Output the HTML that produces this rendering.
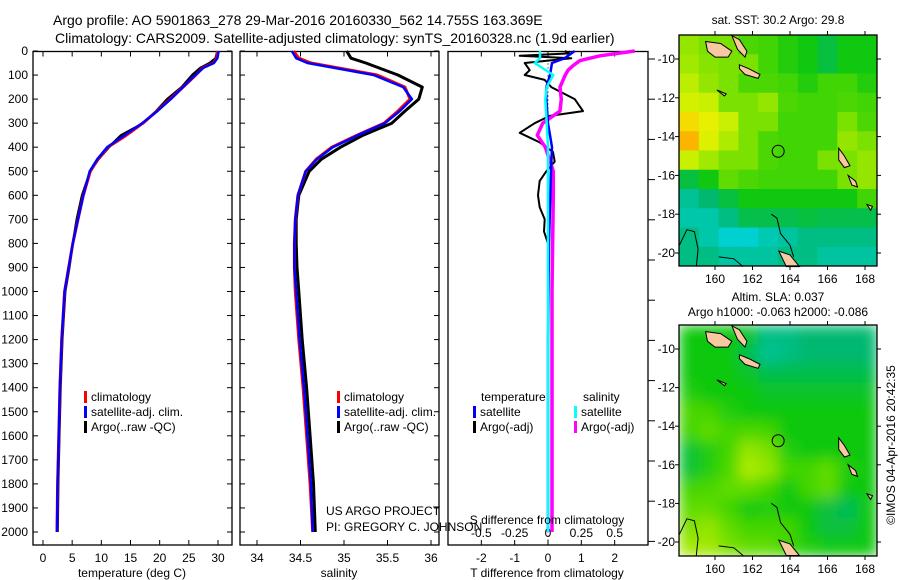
<!DOCTYPE html>
<html><head><meta charset="utf-8">
<style>
html,body{margin:0;padding:0;background:#fff;}
svg{display:block;font-family:"Liberation Sans",sans-serif;}
text{font-size:12px;fill:#000;}
</style></head>
<body>
<svg id="chart" width="900" height="580" viewBox="0 0 900 580" xmlns="http://www.w3.org/2000/svg">
<defs>
<filter id="blur" x="-5%" y="-5%" width="110%" height="110%"><feGaussianBlur stdDeviation="7" edgeMode="duplicate"/></filter>
<clipPath id="clipSla"><rect x="679" y="325" width="198" height="231"/></clipPath>
</defs>
<text x="53" y="25" style="font-size:14px">Argo profile: AO 5901863_278 29-Mar-2016 20160330_562 14.755S 163.369E</text>
<text x="55" y="43" style="font-size:14px">Climatology: CARS2009. Satellite-adjusted climatology: synTS_20160328.nc (1.9d earlier)</text>
<g id="g1"></g>
<g id="g2"></g>
<g id="g3"></g>
<g id="gp"></g>
<g id="m1"></g>
<g id="m2"></g>
<text transform="translate(895,445) rotate(-90)" text-anchor="middle">©IMOS 04-Apr-2016 20:42:35</text>
</svg>
<script>
// ---------- data ----------
const depthTicks = [0,100,200,300,400,500,600,700,800,900,1000,1100,1200,1300,1400,1500,1600,1700,1800,1900,2000];
const tempTicks = [0,5,10,15,20,25,30];
const salTicks = [34,34.5,35,35.5,36];
const salTickLabels = ["34","34.5","35","35.5","36"];
const tdiffTicks = [-2,-1,0,1,2];
const sdiffTicks = [-0.5,-0.25,0,0.25,0.5];
const sdiffTickLabels = ["-0.5","-0.25","0","0.25","0.5"];

const tempDepth = [0,30,50,70,100,150,200,250,300,350,400,450,500,600,700,800,900,1000,1200,1400,1600,1800,2000];
const tempClim  = [29.9,29.8,29.2,27.4,26.2,24.0,21.8,19.5,17.1,14.3,11.1,9.4,8.1,6.9,6.0,5.1,4.4,3.7,3.2,2.9,2.7,2.5,2.4];
const tempSat   = [30.1,29.9,29.3,27.5,26.1,24.0,21.9,19.6,17.0,14.0,11.0,9.3,8.0,6.9,6.0,5.1,4.4,3.7,3.2,2.9,2.7,2.5,2.4];
const tempArgo  = [29.9,29.6,28.6,27.0,25.6,23.8,21.3,19.4,17.2,13.4,11.3,9.5,8.1,6.7,5.8,5.1,4.5,3.8,3.3,3.0,2.8,2.6,2.5];

const profDepth = [0,30,50,100,150,200,250,300,350,400,450,500,600,700,800,900,1000,1200,1400,1600,1800,2000];
const salClim   = [34.42,34.48,34.62,35.38,35.70,35.76,35.62,35.46,35.15,34.86,34.68,34.56,34.47,34.44,34.43,34.43,34.44,34.48,34.53,34.57,34.61,34.64];
const salSat    = [34.40,34.45,34.58,35.34,35.68,35.78,35.64,35.47,35.16,34.87,34.69,34.56,34.47,34.44,34.43,34.43,34.45,34.49,34.54,34.58,34.62,34.64];
const salArgo   = [35.03,35.08,35.25,35.62,35.90,35.86,35.70,35.55,35.22,34.96,34.74,34.60,34.48,34.45,34.45,34.46,34.48,34.52,34.57,34.61,34.65,34.67];

const diffDepth = [0,10,20,30,50,80,100,120,150,200,250,270,300,340,380,420,460,500,540,600,650,700,750,800];
const tdiffArgo = [0.5,0.65,-0.85,0.7,-0.7,-0.55,-0.7,-0.1,0.1,0.8,1.05,0.05,-0.4,-0.85,-0.25,0.15,0.2,-0.05,-0.25,-0.3,-0.25,-0.1,-0.12,0.0];
const fullDepth = [0,30,50,100,150,200,300,400,500,800,1200,1600,2000];
const tdiffSat  = [0.8,0.5,0.12,0.06,-0.05,-0.05,0.0,0.12,0.09,0.03,0.0,0.0,0.0];
const sdiffSat  = [-0.06,-0.06,-0.1,0.04,-0.01,-0.02,-0.01,0.0,0.0,0.0,0.0,0.0,0.0];
const sdiffArgoDepth = [0,20,40,60,80,100,150,200,250,300,350,400,450,500,600,1000,1500,2000];
const sdiffArgo = [0.65,0.39,0.24,0.19,0.15,0.13,0.09,0.10,0.09,-0.04,-0.08,-0.02,0.01,0.04,0.04,0.03,0.03,0.03];

const latTicks = [-10,-12,-14,-16,-18,-20];
const lonTicks = [160,162,164,166,168];
const sstGrid = [
[.62,.60,.60,.56,.55,.52,.50,.46,.50,.50],
[.63,.61,.60,.60,.55,.52,.50,.46,.50,.50],
[.65,.62,.60,.56,.56,.55,.52,.55,.55,.52],
[.68,.66,.60,.60,.62,.56,.55,.55,.56,.55],
[.76,.72,.66,.60,.60,.55,.55,.55,.60,.56],
[.80,.70,.64,.60,.56,.55,.55,.55,.62,.60],
[.66,.63,.60,.60,.56,.55,.55,.60,.60,.62],
[.46,.50,.58,.56,.55,.55,.55,.55,.60,.62],
[.38,.42,.46,.50,.50,.50,.50,.50,.50,.55],
[.36,.36,.40,.45,.45,.45,.46,.45,.45,.45],
[.40,.36,.32,.32,.35,.37,.40,.40,.40,.40],
[.40,.40,.37,.37,.37,.40,.40,.37,.37,.37]];
const slaGrid = [
[.50,.50,.50,.48,.40,.40,.42,.42,.42,.42],
[.50,.50,.50,.45,.38,.40,.42,.42,.42,.42],
[.50,.50,.50,.48,.45,.45,.45,.45,.45,.45],
[.52,.50,.50,.50,.48,.48,.48,.48,.48,.48],
[.56,.55,.52,.50,.50,.50,.50,.50,.50,.50],
[.55,.58,.55,.56,.55,.50,.50,.50,.50,.50],
[.47,.52,.55,.62,.60,.52,.50,.50,.50,.50],
[.47,.52,.56,.64,.62,.55,.55,.58,.52,.50],
[.55,.56,.58,.58,.55,.50,.55,.58,.50,.50],
[.58,.58,.55,.50,.52,.50,.50,.46,.44,.50],
[.60,.62,.58,.55,.55,.55,.50,.46,.46,.50],
[.63,.63,.60,.58,.58,.55,.52,.50,.50,.50]];
const floatLon = 163.369, floatLat = -14.755;

// ---------- helpers ----------
const NS="http://www.w3.org/2000/svg";
function mk(tag, attrs, parent){const e=document.createElementNS(NS,tag);for(const k in attrs)e.setAttribute(k,attrs[k]);parent.appendChild(e);return e;}
const PT=51.5, PB=545;
const yD = d => 51 + d*(532-51)/2000;
function panelFrame(g,x0,x1,name){
  const r=mk('rect',{x:x0,y:PT,width:x1-x0,height:PB-PT,fill:'#fff',stroke:'#000','stroke-width':1.3},g);
  
  
}
function line(g,xs,ys,color,w,name){
  const p=mk('polyline',{points:xs.map((x,i)=>x.toFixed(1)+','+ys[i].toFixed(1)).join(' '),fill:'none',stroke:color,'stroke-width':w,'stroke-linejoin':'round'},g);
  
  
}
function txt(g,x,y,s,anchor,name,size){
  const t=mk('text',{x:x,y:y,'text-anchor':anchor||'start'},g);
  if(size)t.style.fontSize=size+'px';
  t.textContent=s;
  
  
  return t;
}
function depthAxis(g,x0,x1,labels){
  depthTicks.forEach(d=>{
    const y=yD(d);
    mk('line',{x1:x0,y1:y,x2:x0+5,y2:y,stroke:'#000'},g);
    mk('line',{x1:x1,y1:y,x2:x1-5,y2:y,stroke:'#000'},g);
    if(labels) txt(g,28,y+4,String(d),'end','depth-tick-label');
  });
}
function legend(g,x,y,items){
  items.forEach((it,i)=>{
    const r=mk('rect',{x:x,y:y+i*15-10,width:3,height:12,fill:it[1]},g);
    
    
    txt(g,x+7,y+i*15,it[0],'start','legend-entry');
  });
}

// ---------- panel 1: temperature ----------
{
const g=document.getElementById('g1'), x0=33, x1=232;
const xT = t => 43 + t*(218-43)/30;
panelFrame(g,x0,x1,'temperature-panel');
depthAxis(g,x0,x1,true);
tempTicks.forEach(t=>{const x=xT(t);
  mk('line',{x1:x,y1:PB,x2:x,y2:PB-5,stroke:'#000'},g);
  mk('line',{x1:x,y1:PT,x2:x,y2:PT+5,stroke:'#000'},g);
  txt(g,x,562,String(t),'middle','temperature-tick-label');});
txt(g,132,577,'temperature (deg C)','middle','x-axis-title-temperature');
line(g,tempArgo.map(xT),tempDepth.map(yD),'#000',2.5,'argo-temperature-line');
line(g,tempClim.map(xT),tempDepth.map(yD),'#f00',3,'climatology-temperature-line');
line(g,tempSat.map(xT),tempDepth.map(yD),'#00f',2.5,'satellite-temperature-line');
legend(g,84,401,[['climatology','#f00'],['satellite-adj. clim.','#00f'],['Argo(..raw -QC)','#000']]);
}
// ---------- panel 2: salinity ----------
{
const g=document.getElementById('g2'), x0=240, x1=439;
const xS = s => 257 + (s-34)*(431-257)/2;
panelFrame(g,x0,x1,'salinity-panel');
depthAxis(g,x0,x1,false);
salTicks.forEach((s,i)=>{const x=xS(s);
  mk('line',{x1:x,y1:PB,x2:x,y2:PB-5,stroke:'#000'},g);
  mk('line',{x1:x,y1:PT,x2:x,y2:PT+5,stroke:'#000'},g);
  txt(g,x,562,salTickLabels[i],'middle','salinity-tick-label');});
txt(g,339,577,'salinity','middle','x-axis-title-salinity');
line(g,salArgo.map(xS),profDepth.map(yD),'#000',3,'argo-salinity-line');
line(g,salClim.map(xS),profDepth.map(yD),'#f00',3,'climatology-salinity-line');
line(g,salSat.map(xS),profDepth.map(yD),'#00f',2.5,'satellite-salinity-line');
legend(g,337,401,[['climatology','#f00'],['satellite-adj. clim.','#00f'],['Argo(..raw -QC)','#000']]);
}
// ---------- panel 3: differences ----------
{
const g=document.getElementById('g3'), x0=448, x1=648;
const xTd = t => 548 + t*(200/6);
const xSd = s => 548 + s*(200/1.5);
panelFrame(g,x0,x1,'difference-panel');
tdiffTicks.forEach(t=>{const x=xTd(t);
  mk('line',{x1:x,y1:PB,x2:x,y2:PB-5,stroke:'#000'},g);
  mk('line',{x1:x,y1:PT,x2:x,y2:PT+5,stroke:'#000'},g);
  txt(g,x,562,String(t),'middle','tdiff-tick-label');});
sdiffTicks.forEach((s,i)=>txt(g,xSd(s),537,sdiffTickLabels[i],'middle','sdiff-tick-label'));
for(let k=0;k<13;k++){const y=59+k*40.2; mk('line',{x1:x1,y1:y,x2:x1+7,y2:y,stroke:'#000'},g);}
mk('line',{x1:548,y1:PT,x2:548,y2:PB,stroke:'#000','stroke-dasharray':'1,3'},g);
line(g,tdiffArgo.map(xTd),diffDepth.map(yD),'#000',2,'argo-tdiff-line');
line(g,sdiffArgo.map(xSd),sdiffArgoDepth.map(yD),'#f0f',3.5,'argo-sdiff-line');
line(g,tdiffSat.map(xTd),fullDepth.map(yD),'#00f',2.5,'satellite-tdiff-line');
line(g,sdiffSat.map(xSd),fullDepth.map(yD),'#0ff',2.5,'satellite-sdiff-line');
txt(g,481,401,'temperature','start','legend-title-temperature');
txt(g,583,401,'salinity','start','legend-title-salinity');
legend(g,473,416,[['satellite','#00f'],['Argo(-adj)','#000']]);
legend(g,574,416,[['satellite','#0ff'],['Argo(-adj)','#f0f']]);
txt(g,547,524,'S difference from climatology','middle','sdiff-axis-title');
txt(g,547,577,'T difference from climatology','middle','tdiff-axis-title');
}
// project text
{const g=document.getElementById('gp');
txt(g,326,515,'US ARGO PROJECT','start','project-label');
txt(g,326,531,'PI: GREGORY C. JOHNSON','start','pi-label');}

// ---------- maps ----------
const stops=[[0,[0,16,208]],[.2,[0,144,255]],[.32,[0,208,208]],[.42,[0,184,112]],[.5,[16,200,16]],[.58,[96,220,0]],[.66,[200,240,0]],[.74,[240,240,0]],[.82,[255,160,0]],[.9,[224,64,0]],[1,[176,0,0]]];
function cmap(v){for(let i=1;i<stops.length;i++){if(v<=stops[i][0]){const a=stops[i-1],b=stops[i],f=(v-a[0])/(b[0]-a[0]);return 'rgb('+a[1].map((c,j)=>Math.round(c+(b[1][j]-c)*f)).join(',')+')';}}return 'rgb(176,0,0)';}
const islands=[
 [[159.5,-9.1],[160.3,-9.2],[160.9,-9.6],[160.7,-9.9],[160.0,-9.9],[159.6,-9.6]],
 [[160.9,-8.8],[161.3,-9.0],[161.7,-9.6],[161.6,-9.9],[161.2,-9.5]],
 [[161.3,-10.3],[161.8,-10.5],[162.4,-10.8],[162.3,-11.0],[161.6,-10.8],[161.3,-10.5]],
 [[160.1,-11.6],[160.6,-11.8],[160.5,-11.9]],
 [[166.6,-14.6],[166.9,-15.0],[167.2,-15.5],[166.9,-15.6],[166.6,-15.2]],
 [[167.1,-16.0],[167.5,-16.3],[167.6,-16.6],[167.3,-16.5]],
 [[168.1,-17.5],[168.4,-17.6],[168.3,-17.8]],
 [[163.4,-19.9],[164.0,-20.1],[164.5,-20.7],[163.8,-20.7]]];
const coastLines=[
 [[163.0,-18.0],[163.3,-18.2],[163.5,-19.0],[164.0,-19.6],[164.2,-20.2]],
 [[158.1,-19.6],[158.5,-18.8],[158.9,-18.9],[159.1,-19.8],[159.0,-20.7]],
 [[160.2,-20.2],[161.0,-20.3],[161.5,-20.7]]];
function drawMap(gid,grid,top,bottom,lat10y,lat20y,name,smooth){
  const g=document.getElementById(gid), L=679, R=877;
  const xL = lon => 715 + (lon-160)*18.75;
  const yL = lat => lat10y + (-10-lat)*(lat20y-lat10y)/10;
  const rows=grid.length, cols=grid[0].length, cw=(R-L)/cols, ch=(bottom-top)/rows;
  let cg=g;
  if(smooth){const outer=mk('g',{'clip-path':'url(#clipSla)'},g); cg=mk('g',{filter:'url(#blur)'},outer);}
  grid.forEach((row,i)=>row.forEach((v,j)=>{
    const c=mk('rect',{x:(L+j*cw).toFixed(2),y:(top+i*ch).toFixed(2),width:(cw+0.5).toFixed(2),height:(ch+0.5).toFixed(2),fill:cmap(v)},cg);
    
    
  }));
  islands.forEach(isl=>{const p=mk('polygon',{points:isl.map(q=>xL(q[0]).toFixed(1)+','+yL(q[1]).toFixed(1)).join(' '),fill:'#f8c8a0',stroke:'#000','stroke-width':1},g);
    
    });
  coastLines.forEach(cl=>{const p=mk('polyline',{points:cl.map(q=>xL(q[0]).toFixed(1)+','+yL(q[1]).toFixed(1)).join(' '),fill:'none',stroke:'#000','stroke-width':1},g);
    
    });
  const fc=mk('circle',{cx:xL(floatLon),cy:yL(floatLat),r:6,fill:'none',stroke:'#000','stroke-width':1},g);
  
  
  const fr=mk('rect',{x:L,y:top,width:R-L,height:bottom-top,fill:'none',stroke:'#000','stroke-width':1.3},g);
  
  
  latTicks.forEach(lat=>{const y=yL(lat);
    mk('line',{x1:L,y1:y,x2:L-4,y2:y,stroke:'#000'},g);
    mk('line',{x1:R,y1:y,x2:R+4,y2:y,stroke:'#000'},g);
    txt(g,675,y+4,String(lat),'end','latitude-tick-label');});
  lonTicks.forEach(lon=>{const x=xL(lon);
    mk('line',{x1:x,y1:top,x2:x,y2:top-4,stroke:'#000'},g);
    mk('line',{x1:x,y1:bottom,x2:x,y2:bottom+4,stroke:'#000'},g);
    txt(g,x,bottom+17,String(lon),'middle','longitude-tick-label');});
}
drawMap('m1',sstGrid,35,266,59,253,'sst-map',false);
drawMap('m2',slaGrid,325,556,349,542,'sla-map',true);
txt(document.getElementById('m1'),778,24,'sat. SST: 30.2  Argo: 29.8','middle','sst-map-title');
txt(document.getElementById('m2'),778,301,'Altim. SLA: 0.037','middle','sla-map-title');
txt(document.getElementById('m2'),778,316,'Argo h1000: -0.063 h2000: -0.086','middle','sla-map-subtitle');
</script>
</body></html>
